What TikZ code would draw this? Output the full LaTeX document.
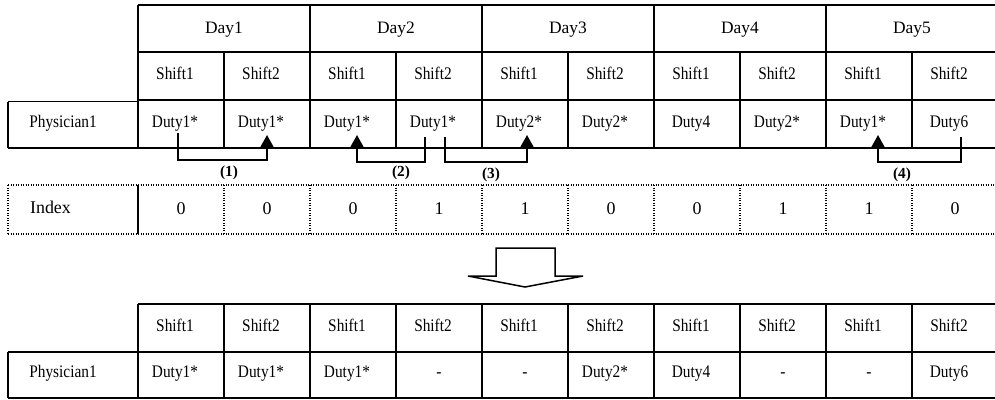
\documentclass[tikz,border=0pt]{standalone}
\usepackage{fontspec}
\setmainfont{Liberation Serif}
\usetikzlibrary{arrows.meta}
% cell texts are set slightly taller than the plain face
\newcommand\tallcell[1]{\scalebox{1}[1.15]{#1}}
\begin{document}
\begin{tikzpicture}[x=1bp,y=-1bp,
  grid/.style={line width=1.6bp},
  dotgrid/.style={line width=1.5bp, dash pattern=on 1.4bp off 1.1bp},
  daytxt/.style={anchor=base, inner sep=0pt, font=\fontsize{17.5}{20}\selectfont},
  celltxt/.style={anchor=base, inner sep=0pt, font=\fontsize{15.4}{18}\selectfont},
  idxtxt/.style={anchor=base, inner sep=0pt, font=\fontsize{18}{21}\selectfont},
  steplabel/.style={anchor=center, inner sep=0pt, font=\bfseries\fontsize{15.4}{18}\selectfont},
  swap/.style={line width=1.6bp, -{Triangle[width=14bp,length=13bp]}},
  bigarrow/.style={line width=1.5bp, line join=miter}]
\useasboundingbox (0,0) rectangle (995,399);

% ---------- upper table: days, shifts, duties ----------
\draw[grid] (138,5) -- (1000,5);
\draw[grid] (138,52) -- (1000,52);
\draw[grid] (138,100) -- (1000,100);
\draw[grid] (8,148) -- (1000,148);
\draw[grid] (8,101.5) -- (138,101.5);
\draw[grid] (8,101.5) -- (8,148);
\foreach \x in {138,310,482,654,826} \draw[grid] (\x,5) -- (\x,148);
\foreach \x in {224,396,568,740,912} \draw[grid] (\x,52) -- (\x,148);

\foreach \d in {1,...,5}
  \node[daytxt] (day\d) at ({224+172*(\d-1)},33.5) {Day\d};

\foreach \i/\s in {1/1,2/2,3/1,4/2,5/1,6/2,7/1,8/2,9/1,10/2}
  \node[celltxt] (s\i) at ({175+86*(\i-1)},79) {\tallcell{Shift\s}};

\node[celltxt] (p1) at (63,127.5) {\tallcell{Physician1}};
\foreach \i/\t in {1/Duty1*,2/Duty1*,3/Duty1*,4/Duty1*,5/Duty2*,6/Duty2*,7/Duty4,8/Duty2*,9/Duty1*,10/Duty6}
  \node[celltxt] (d\i) at ({175+86*(\i-1)},127.5) {\tallcell{\t}};

% ---------- swap connectors ----------
\coordinate (a1s) at (178,133);  \coordinate (a1e) at (267,135);
\coordinate (a2s) at (425,137);  \coordinate (a2e) at (357,135);
\coordinate (a3s) at (445,137);  \coordinate (a3e) at (527,135);
\coordinate (a4s) at (961,137);  \coordinate (a4e) at (878,135);
\draw[swap] (a1s) -- ++(0,27) -| (a1e);
\draw[swap] (a2s) -- ++(0,25) -| (a2e);
\draw[swap] (a3s) -- ++(0,25) -| (a3e);
\draw[swap] (a4s) -- ++(0,25) -| (a4e);
\node[steplabel] (l1) at (229,173) {(1)};
\node[steplabel] (l2) at (401,173) {(2)};
\node[steplabel] (l3) at (491,175) {(3)};
\node[steplabel] (l4) at (902,175) {(4)};

% ---------- index row ----------
\draw[dotgrid] (8,185) -- (1000,185);
\draw[dotgrid] (8,234) -- (1000,234);
\draw[dotgrid] (8,185) -- (8,234);
\draw[line width=1.6bp] (138,185) -- (138,234);
\foreach \x in {224,310,396,482,568,654,740,826,912} \draw[dotgrid] (\x,185) -- (\x,234);
\node[idxtxt] (idx) at (50.5,213) {Index};
\foreach \i/\v in {1/0,2/0,3/0,4/1,5/1,6/0,7/0,8/1,9/1,10/0}
  \node[idxtxt] (i\i) at ({181+86*(\i-1)},214) {\v};

% ---------- block arrow ----------
\draw[bigarrow] (496,276) -- (496,248) -- (555,248) -- (555,276) -- (583,276)
  -- (525,287) -- (468,276) -- cycle;

% ---------- lower table: result ----------
\draw[grid] (138,304) -- (1000,304);
\draw[grid] (8,352) -- (1000,352);
\draw[grid] (8,398) -- (1000,398);
\draw[grid] (8,352) -- (8,398);
\foreach \x in {138,224,310,396,482,568,654,740,826,912} \draw[grid] (\x,304) -- (\x,398);

\foreach \i/\s in {1/1,2/2,3/1,4/2,5/1,6/2,7/1,8/2,9/1,10/2}
  \node[celltxt] (bs\i) at ({175+86*(\i-1)},331) {\tallcell{Shift\s}};

\node[celltxt] (p2) at (63,377.5) {\tallcell{Physician1}};
\foreach \i/\t/\dx in {1/Duty1*/0,2/Duty1*/0,3/Duty1*/0,4/-/6,5/-/6,6/Duty2*/0,7/Duty4/0,8/-/6,9/-/6,10/Duty6/0}
  \node[celltxt] (bd\i) at ({175+\dx+86*(\i-1)},377.5) {\tallcell{\t}};
\end{tikzpicture}
\end{document}
